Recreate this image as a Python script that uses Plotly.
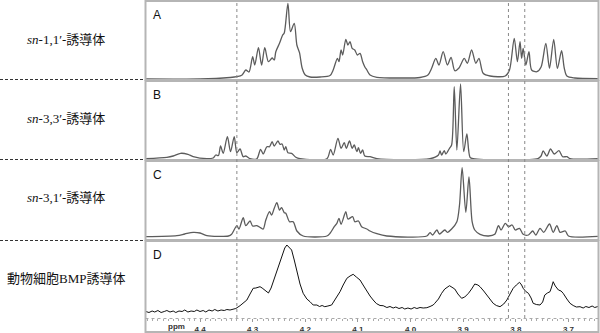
import plotly.graph_objects as go

W, H = 600, 333

# ---------------- data (ppm, relative intensity) ----------------
a_ppm = [4.503, 4.400, 4.343, 4.330, 4.320, 4.313, 4.307, 4.300, 4.296, 4.289, 4.283, 4.277, 4.270, 4.263,
         4.259, 4.256, 4.249, 4.243, 4.240, 4.233, 4.228, 4.221, 4.216, 4.211, 4.206, 4.200, 4.191, 4.172,
         4.153, 4.147, 4.139, 4.136, 4.132, 4.129, 4.123, 4.119, 4.115, 4.111, 4.106, 4.101, 4.096, 4.091,
         4.087, 4.083, 4.077, 4.064, 4.020, 3.982, 3.967, 3.960, 3.952, 3.946, 3.938, 3.930, 3.923, 3.916,
         3.908, 3.898, 3.892, 3.884, 3.876, 3.870, 3.862, 3.849, 3.820, 3.812, 3.803, 3.797, 3.792, 3.789,
         3.786, 3.781, 3.775, 3.770, 3.760, 3.752, 3.743, 3.736, 3.728, 3.721, 3.713, 3.708, 3.703, 3.688, 3.644]
a_int = [1, 1, 2.5, 3.3, 5, 10, 8, 23.3, 15, 32.3, 15, 32.3, 18.3, 22,
         20, 28.3, 36.7, 45, 47, 76.7, 48.3, 56.7, 35, 27.3, 12, 5, 3, 3,
         4.5, 10, 21.7, 18.3, 30, 25, 40.7, 35, 38.3, 31.7, 30, 25, 26.7, 18.3,
         13.3, 10, 5, 2.7, 2, 2.5, 5, 11.7, 21.7, 15, 28.3, 15, 22.7, 9.3,
         12, 21.7, 16.7, 30, 16.7, 21.7, 6.7, 4, 4, 10, 41.7, 18.3, 38.3, 21.7,
         31.7, 15, 28.3, 10, 8.3, 13, 36.7, 11.7, 40.7, 11.7, 29.3, 12, 4, 2, 1.3]

b_ppm = [4.503, 4.463, 4.451, 4.437, 4.423, 4.413, 4.387, 4.375, 4.370, 4.365, 4.361, 4.356, 4.348, 4.342,
         4.335, 4.330, 4.324, 4.318, 4.313, 4.305, 4.292, 4.285, 4.280, 4.273, 4.268, 4.263, 4.259, 4.252,
         4.248, 4.244, 4.240, 4.237, 4.233, 4.226, 4.218, 4.210, 4.159, 4.152, 4.147, 4.138, 4.132, 4.126,
         4.122, 4.116, 4.111, 4.107, 4.102, 4.099, 4.095, 4.091, 4.087, 4.077, 4.064, 3.963, 3.947, 3.944,
         3.941, 3.936, 3.933, 3.926, 3.922, 3.917, 3.912, 3.905, 3.899, 3.893, 3.887, 3.881, 3.758, 3.752,
         3.748, 3.741, 3.734, 3.727, 3.718, 3.711, 3.703, 3.697, 3.644]
b_int = [1.3, 2.7, 4, 6.7, 5.7, 3.3, 1.3, 2, 5, 4.5, 14, 6.7, 23.3, 8.3,
         23.3, 7.3, 11, 3.3, 4, 1.3, 1.3, 10.7, 6, 13.3, 13.3, 18.3, 14, 19,
         15.7, 16, 10, 13.3, 7.3, 6.7, 2.7, 1.3, 1.3, 10.7, 5, 21.7, 11.7, 17.3,
         11.7, 19, 11.7, 15, 8.3, 12.3, 6.7, 10, 4, 3.3, 1.3, 1.3, 5, 9,
         5, 9.3, 6, 11.7, 15, 73.3, 10, 76, 8.3, 26, 2.7, 1.3, 1.3, 4,
         9, 4, 11, 6, 9.3, 3.3, 3.3, 1.3, 1.3]

c_ppm = [4.503, 4.444, 4.429, 4.413, 4.400, 4.387, 4.346, 4.340, 4.330, 4.326, 4.318, 4.313, 4.305, 4.300,
         4.292, 4.285, 4.280, 4.275, 4.268, 4.264, 4.259, 4.254, 4.249, 4.245, 4.240, 4.237, 4.230, 4.223,
         4.216, 4.204, 4.159, 4.153, 4.145, 4.140, 4.136, 4.132, 4.123, 4.119, 4.110, 4.106, 4.099, 4.093,
         4.083, 4.077, 4.064, 4.045, 3.969, 3.963, 3.958, 3.950, 3.945, 3.935, 3.930, 3.922, 3.912, 3.907,
         3.902, 3.895, 3.889, 3.883, 3.878, 3.868, 3.852, 3.840, 3.833, 3.828, 3.820, 3.814, 3.807, 3.801,
         3.793, 3.786, 3.776, 3.768, 3.762, 3.754, 3.747, 3.736, 3.729, 3.722, 3.716, 3.706, 3.700, 3.644]
c_int = [3.3, 4.3, 6, 7.7, 7, 4.3, 4, 5.7, 14.3, 11, 22.3, 14.3, 19, 14,
         14.3, 12.3, 11, 20, 28.3, 25, 31.7, 37.3, 30, 32.3, 27.3, 26.7, 18.3, 18.3,
         9, 4, 4, 6.7, 13.3, 16.7, 21.7, 15.7, 28.3, 21, 23.3, 18.3, 19, 13.3,
         11, 9, 6.3, 4, 4, 7.3, 5, 10, 6, 10, 7.7, 11, 18.3, 35,
         72.3, 27.7, 63, 18.3, 10, 5.7, 4, 5.7, 14.3, 10, 16.7, 13.3, 15, 10,
         11.7, 5.7, 5, 9, 5, 11.7, 7.7, 16, 7.7, 14.3, 7.7, 9, 4, 3.7]

d_ppm = [4.503, 4.497, 4.491, 4.486, 4.480, 4.474, 4.468, 4.463, 4.457, 4.451, 4.446, 4.440, 4.434, 4.429,
         4.423, 4.417, 4.411, 4.406, 4.400, 4.394, 4.389, 4.383, 4.377, 4.372, 4.366, 4.360, 4.354, 4.349,
         4.343, 4.337, 4.332, 4.324, 4.318, 4.311, 4.305, 4.299, 4.294, 4.290, 4.286, 4.282, 4.277, 4.270,
         4.265, 4.261, 4.254, 4.248, 4.242, 4.239, 4.235, 4.232, 4.226, 4.221, 4.216, 4.210, 4.204, 4.197,
         4.191, 4.185, 4.178, 4.173, 4.168, 4.163, 4.157, 4.150, 4.144, 4.138, 4.134, 4.128, 4.121, 4.115,
         4.109, 4.103, 4.096, 4.089, 4.083, 4.077, 4.071, 4.065, 4.058, 4.052, 4.045, 4.039, 4.033, 4.028,
         4.022, 4.016, 4.011, 4.005, 3.999, 3.993, 3.988, 3.982, 3.976, 3.969, 3.963, 3.957, 3.954, 3.947,
         3.941, 3.935, 3.926, 3.921, 3.916, 3.910, 3.903, 3.897, 3.890, 3.884, 3.878, 3.872, 3.868, 3.861,
         3.855, 3.849, 3.843, 3.837, 3.830, 3.823, 3.817, 3.811, 3.805, 3.799, 3.793, 3.789, 3.786, 3.781,
         3.776, 3.771, 3.767, 3.761, 3.754, 3.749, 3.745, 3.740, 3.735, 3.732, 3.729, 3.725, 3.719, 3.714,
         3.710, 3.703, 3.697, 3.691, 3.685, 3.678, 3.672, 3.667, 3.661, 3.655, 3.650, 3.644]
d_int = [6.5, 5.5, 7, 6, 7.5, 5.5, 6.5, 7.5, 6, 7, 5.5, 7, 6.5, 8,
         6, 7, 6.5, 8, 6.5, 7.5, 6, 8, 7, 8.5, 7, 8, 7.5, 8.5,
         8, 9, 9.5, 12.3, 15, 18, 24, 29.7, 30, 31, 31.3, 30, 28, 25,
         30, 36.3, 46, 56.3, 65, 70, 73, 71.5, 68, 58, 46.3, 34, 24.7, 19,
         16.3, 13, 13, 11.5, 12.5, 11.3, 12, 13, 18, 23, 26.3, 33, 39.7, 42,
         43.7, 41, 38, 32, 26.3, 22, 18, 14.5, 12.5, 12.3, 10.5, 11.5, 10, 11,
         9.5, 10.5, 9, 10, 9, 10.5, 9.5, 10.5, 10, 10.3, 11.5, 13, 14.7, 19,
         24.7, 29, 32.3, 30.5, 29, 24, 19.7, 21, 24.7, 29, 34, 33, 31.3, 27,
         23, 18, 14.7, 12.5, 11.3, 14, 18, 24, 29.7, 33, 35.7, 33, 29.7, 26.5,
         24.7, 20, 14.7, 13.5, 13, 16, 23, 25, 26.3, 31, 36.3, 32, 28, 27,
         24.7, 19, 14.7, 12.5, 11, 11.3, 10, 11.5, 10.5, 12, 10.5, 11.5]

panel_letters = ["A", "B", "C", "D"]
panel_names = ["<i>sn</i>-1,1′-誘導体", "<i>sn</i>-3,3′-誘導体", "<i>sn</i>-3,1′-誘導体", "動物細胞BMP誘導体"]
tick_vals = [4.4, 4.3, 4.2, 4.1, 4.0, 3.9, 3.8, 3.7]
tick_text = ["4.4", "4.3", "4.2", "4.1", "4.0", "3.9", "3.8", "3.7"]
marker_ppm = [4.330, 3.814, 3.783]

# ---------------- layout geometry (pixels) ----------------
def py(px):
    return 1 - px / H

def pxx(px):
    return px / W

x_left, x_right = 145.5, 598.5
panels = [(1, 80), (81, 160), (161, 240), (241, 318)]   # data areas (top, bottom)
boxes = [(1, 80), (81, 160), (161, 240), (241, 332)]

fig = go.Figure()
series = [(a_ppm, a_int, "#5c5c5c", 1.3, "spline"),
          (b_ppm, b_int, "#5c5c5c", 1.3, "spline"),
          (c_ppm, c_int, "#5c5c5c", 1.3, "spline"),
          (d_ppm, d_int, "#111111", 1.0, "linear")]
for i, (xs, ys, col, lw, shp) in enumerate(series):
    yname = "y" if i == 0 else f"y{i+1}"
    line = dict(color=col, width=lw, shape=shp)
    if shp == "spline":
        line["smoothing"] = 0.8
    fig.add_trace(go.Scatter(x=xs, y=ys, mode="lines", line=line,
                             xaxis="x", yaxis=yname, showlegend=False, hoverinfo="skip"))

layout = dict(
    width=W, height=H, margin=dict(l=0, r=0, t=0, b=0),
    paper_bgcolor="white", plot_bgcolor="white",
    xaxis=dict(domain=[pxx(x_left), pxx(x_right)], range=[4.5036, 3.6429], anchor="y4",
               showgrid=False, zeroline=False, showline=False,
               tickvals=tick_vals, ticktext=tick_text, ticks="outside", ticklen=3,
               tickcolor="#999", tickwidth=1,
               minor=dict(dtick=0.01, ticks="outside", ticklen=2, tickcolor="#aaa"),
               tickfont=dict(family="Liberation Sans", size=8, color="#333", weight="bold"),
               automargin=False),
)
for i, (t, b) in enumerate(panels):
    key = "yaxis" if i == 0 else f"yaxis{i+1}"
    layout[key] = dict(domain=[py(b), py(t)], range=[0, b - t], anchor="x", visible=False,
                       fixedrange=True)
fig.update_layout(**layout)

shapes = []
for (t, b) in boxes:
    shapes.append(dict(type="rect", xref="paper", yref="paper", x0=pxx(x_left), x1=pxx(x_right),
                       y0=py(b), y1=py(t), line=dict(color="#b5b5b5", width=2), layer="above"))
for ysep in [79.5, 159.5, 240.5]:
    shapes.append(dict(type="line", xref="paper", yref="paper", x0=0, x1=pxx(143),
                       y0=py(ysep), y1=py(ysep), line=dict(color="#333", width=1, dash="3px,2px")))
for m in marker_ppm:
    shapes.append(dict(type="line", xref="x", yref="paper", x0=m, x1=m, y0=py(318), y1=1,
                       line=dict(color="#888", width=1, dash="dot"), layer="above"))
shapes.append(dict(type="line", xref="paper", yref="paper", x0=pxx(x_left), x1=pxx(x_right),
                   y0=py(318.5), y1=py(318.5), line=dict(color="#aaa", width=1, dash="dot")))
fig.update_layout(shapes=shapes)

annotations = []
label_y = [40, 118, 197, 278]
for name, yy in zip(panel_names, label_y):
    annotations.append(dict(text=name, xref="paper", yref="paper", x=pxx(66), y=py(yy),
                            showarrow=False, xanchor="center", yanchor="middle",
                            font=dict(family="Liberation Serif, Noto Sans CJK JP", size=13, color="#111")))
for letter, (t, b) in zip(panel_letters, boxes):
    annotations.append(dict(text=letter, xref="paper", yref="paper", x=pxx(151), y=py(t + 5),
                            showarrow=False, xanchor="left", yanchor="top",
                            font=dict(family="Liberation Sans", size=12, color="#111")))
annotations.append(dict(text="ppm", xref="paper", yref="paper", x=pxx(176), y=py(326),
                        showarrow=False, xanchor="center", yanchor="middle",
                        font=dict(family="Liberation Sans", size=8, color="#333", weight="bold")))
fig.update_layout(annotations=annotations)

fig.write_html("out.html")
